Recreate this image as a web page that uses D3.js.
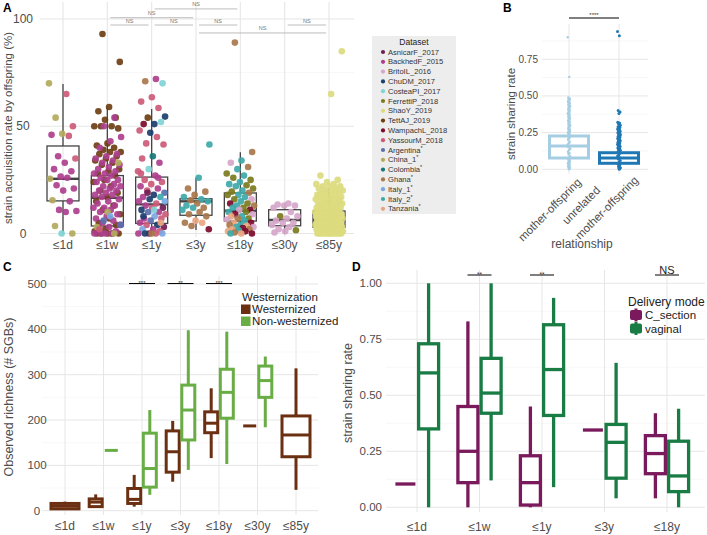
<!DOCTYPE html>
<html><head><meta charset="utf-8">
<script src="https://cdn.jsdelivr.net/npm/d3@7"></script>
<style>body{margin:0;background:#fff}svg{display:block;font-family:"Liberation Sans",Arial,Helvetica,sans-serif}</style>
</head><body><svg id="c" width="707" height="535"></svg>
<script>
// ---------------- DATA ----------------
const ageCats = ["≤1d","≤1w","≤1y","≤3y","≤18y","≤30y","≤85y"];
const datasets = ["AsnicarF_2017","BackhedF_2015","BritoIL_2016","ChuDM_2017","CosteaPI_2017","FerrettiP_2018","ShaoY_2019","TettAJ_2019","WampachL_2018","YassourM_2018","Argentina","China_1","Colombia","Ghana","Italy_1","Italy_2","Tanzania"];
const datasetStar = [0,0,0,0,0,0,0,0,0,0,1,1,1,1,1,1,1];
const datasetColors = ["#6e1e52","#ad3f8e","#d6a6c9","#1c3f6e","#80d4d6","#7b7a1d","#dcdb7e","#6e3e13","#7c0a2c","#cc5a78","#5b6fae","#b3aa5c","#17777a","#a9774b","#7aa7e2","#3ea8a8","#e9a57f"];

// Panel A box statistics (strain acquisition rate %)
const aLo  = [0,   0,   0,   1.6, 0,   0,   0];
const aQ1  = [15.2,3.5, 4.7, 8.5, 5.8, 3.6, 2.9];
const aMed = [25.5,16.7,13.6,15,  10.6,6.3, 6.3];
const aQ3  = [40.8,27,  26.3,16.2,18.9,11.1,10.5];
const aHi  = [69.7,59,  58,  26,  37.9,14,  21];

// Panel A points: [value, dataset index]
const pts1d = [[70,11],[65,9],[54,11],[50,9],[46.5,11],[46,1],[45.5,9],[36,1],[35,9],[33,1],[30,1],[29,1],[26.5,1],[25.5,11],[26,1],[22.5,1],[21,1],[20,1],[15.5,11],[15,1],[11,1],[10.5,1],[10,1],[3.5,11],[0,11],[0,4]];
const pts1w = [[93,7],[80,7],[59,7],[57,7],[54,7],[53,7],[50,7],[50,7],[50,7],[49,7],[42,7],[41,7],[40,7],[39,7],[38,7],[38,7],[37,7],[36,7],[35,7],[34,7],[33,7],[32,7],[30,7],[29,7],[28,7],[27,7],[25,7],[24,7],[22,7],[20,7],[19,7],[17,7],[15,7],[13,7],[11,7],[9,7],[7,7],[5,7],[4,7],[2,7],[1,7],[0,7],[0,7],[0,7],[0,7],[0,7],
 [54,1],[50,1],[45,1],[43,1],[40,1],[37,1],[36,1],[35,1],[34,1],[33,1],[32,1],[31,1],[30,1],[29,1],[28,1],[28,1],[27,1],[26,1],[25,1],[25,1],[24,1],[23,1],[22,1],[22,1],[21,1],[20,1],[20,1],[19,1],[18,1],[18,1],[17,1],[16,1],[15,1],[14,1],[13,1],[12,1],[12,1],[11,1],[10,1],[9,1],[8,1],[7,1],[6,1],[5,1],[4,1],[3,1],[2,1],[1,1],[0,1],[0,1],[0,1],[0,1],
 [33,11],[10,11],[3,11],[0,11],[6,10],[4,10],[8,14],[2,9]];
const pts1y = [[72,1],[71,13],[70,4],[63.5,9],[61.5,9],[58.5,9],[54,7],[54.5,3],[51,3],[51,8],[52,4],[47,3],[48,9],[45,9],[42,9],[41.5,9],[36,12],[35,9],[33,1],[30,4],[29,9],[27,1],[25,9],[24,9],[23,9],[22,1],[21,1],[20,9],[19,10],[18,3],[17,1],[17,15],[16,3],[15,1],[14,9],[13,1],[12,0],[12,9],[11,3],[10,1],[10,10],[9,9],[8,14],[7,1],[7,9],[6,10],[5,1],[4,3],[4,9],[3,0],[2,1],[2,14],[1,9],[0,0],[0,1],[0,9],[0,3],[0,14],[0,13],[28,9],[26,1],[19,0],[15,14],[11,4],[8,3],[5,16]];
const pts3y = [[41.5,15],[26,15],[21,13],[19.5,13],[18,13],[17,15],[16,15],[15.5,13],[15,15],[14,13],[13,15],[12,13],[12,15],[11,15],[10,13],[9,13],[8,13],[6,16],[5,13],[5,16],[3.5,13],[2,8]];
const pts18y = [[89,13],[38,13],[34,15],[33,2],[31,13],[30,15],[28,5],[27,15],[26,5],[25,5],[24,15],[23,15],[22.5,5],[22,15],[21,5],[20,15],[19.5,5],[19,13],[18,15],[18,5],[17,15],[16,5],[16,2],[15,15],[14,8],[14,5],[13,15],[13,13],[12,5],[12,15],[11,8],[11,2],[10,15],[10,5],[9,8],[9,2],[8,15],[8,16],[7,5],[7,13],[6.5,2],[6,15],[5,16],[5,8],[4,15],[4,13],[3.5,16],[3,15],[3,2],[2.5,8],[2,16],[2,13],[1.5,15],[1,16],[1,8],[0.5,13],[0,8],[0,16],[0,15]];
const pts30y = [[14,2],[13.5,2],[13,2],[13,2],[12,2],[10,2],[8,5],[8,2],[7,2],[6,2],[5,2],[5,2],[4,2],[3,2],[2,2],[1.5,5],[1,2],[0.5,2]];
const pts85yVals = [85,65,27,25,24,23,23,22,22,22,21,21,20,20,20,19,19,19,18,18,18,17,17,17,16,16,16,15,15,15,15,14,14,14,14,13,13,13,13,12,12,12,12,11,11,11,11,10,10,10,10,10,9,9,9,9,9,8,8,8,8,8,8,7,7,7,7,7,7,6,6,6,6,6,6,5,5,5,5,5,5,4,4,4,4,4,4,3,3,3,3,3,3,2,2,2,2,2,1,1,1,1,1,0,0,0,0,0,0,0,0,0,0,0,0];
// significance brackets A: [from cat, to cat, level (%)]
const bracketsA = [[2,4,104.7],[1,3,100.6],[1,2,97.2],[2,3,97.2],[3,4,97.2],[5,6,97.2],[3,6,93.5]];

// Panel B
const relCats = ["mother-offspring","unrelated mother-offspring"];
const bStats = [[0,0.077,0.159,0.227,0.49],[0,0.041,0.077,0.113,0.22]]; // lo,q1,med,q3,hi
const bMother = [0.90,0.63,0.49,0.48,0.47,0.46,0.45,0.44,0.43,0.42,0.41,0.40,0.39,0.38,0.37,0.36,0.35,0.34,0.33,0.32,0.31,0.30,0.29,0.28,0.27,0.26,0.25,0.24,0.23,0.22,0.21,0.20,0.19,0.18,0.17,0.16,0.15,0.14,0.13,0.12,0.11,0.10,0.09,0.08,0.07,0.06,0.05,0.04,0.03,0.02,0.01,0.00,0.02,0.05,0.11,0.14,0.18,0.21,0.26];
const bUnrel = [0.94,0.91,0.40,0.39,0.38,0.32,0.315,0.31,0.30,0.295,0.29,0.285,0.28,0.275,0.27,0.265,0.26,0.255,0.25,0.245,0.24,0.235,0.23,0.225,0.22,0.215,0.21,0.205,0.20,0.195,0.19,0.185,0.18,0.175,0.17,0.165,0.16,0.155,0.15,0.145,0.14,0.135,0.13,0.125,0.12,0.11,0.10,0.09,0.08,0.07,0.06,0.05,0.04,0.03,0.02,0.01,0.00];

// Panel C (observed richness)
const cWest = [[2,4,10,16,20],[6,9,19,26,36],[9,16,25,49,79],[64,85,130,176,198],[116,172,193,218,270],[187,187,187,187,187],[46,119,167,209,314]];
const cNonWest = [null,[133,133,133,133,133],[35,52,93,171,222],[90,156,222,277,398],[103,204,261,312,395],[184,250,287,319,340],null];
const cSig = [[2,"***"],[3,"**"],[4,"***"]];

// Panel D (strain sharing rate by delivery mode)
const dCats = ["≤1d","≤1w","≤1y","≤3y","≤18y"];
const dCsec = [[0.104,0.104,0.104,0.104,0.104],[0,0.11,0.25,0.45,0.83],[0,0.01,0.11,0.23,0.45],[0.345,0.345,0.345,0.345,0.345],[0.04,0.15,0.24,0.32,0.42]];
const dVag  = [[0,0.35,0.60,0.73,1.0],[0.12,0.42,0.51,0.665,1.0],[0.09,0.41,0.615,0.815,0.935],[0.04,0.13,0.29,0.37,0.645],[0,0.07,0.14,0.295,0.44]];
const dSig = [[1,"**"],[2,"**"],[4,"NS"]];

// ---------------- DRAW ----------------
const svg = d3.select("#c");
const GRID = "#e6e6e6", GRIDM = "#f2f2f2", TICK = "#4d4d4d";
const jit = i => ((i * 0.6180339887) % 1) - 0.5;

function box(g, y, cx, hw, s, color, sw, medW, fill) {
  g.append("line").attr("x1",cx).attr("x2",cx).attr("y1",y(s[0])).attr("y2",y(s[1])).attr("stroke",color).attr("stroke-width",sw);
  g.append("line").attr("x1",cx).attr("x2",cx).attr("y1",y(s[3])).attr("y2",y(s[4])).attr("stroke",color).attr("stroke-width",sw);
  g.append("rect").attr("x",cx-hw).attr("width",2*hw).attr("y",y(s[3])).attr("height",Math.max(0,y(s[1])-y(s[3])))
    .attr("fill",fill).attr("stroke",color).attr("stroke-width",sw);
  g.append("line").attr("x1",cx-hw).attr("x2",cx+hw).attr("y1",y(s[2])).attr("y2",y(s[2])).attr("stroke",color).attr("stroke-width",medW);
}
function panelLetter(t,x,y){ svg.append("text").attr("x",x).attr("y",y).text(t).attr("font-weight","bold").attr("font-size",12).attr("fill","#000"); }

// ===== Panel A =====
(function(){
  const g = svg.append("g");
  const x = d3.scalePoint().domain(ageCats).range([63,329]);
  const y = d3.scaleLinear().domain([0,100]).range([233.5,19]);
  [25,75].forEach(v=>g.append("line").attr("x1",40).attr("x2",354).attr("y1",y(v)).attr("y2",y(v)).attr("stroke",GRIDM).attr("stroke-width",0.6));
  [0,50,100].forEach(v=>g.append("line").attr("x1",40).attr("x2",354).attr("y1",y(v)).attr("y2",y(v)).attr("stroke",GRID).attr("stroke-width",1.1));
  ageCats.forEach(c=>g.append("line").attr("x1",x(c)).attr("x2",x(c)).attr("y1",2).attr("y2",237).attr("stroke",GRID).attr("stroke-width",1.1));
  [0,50,100].forEach(v=>g.append("text").attr("x",23).attr("y",y(v)).attr("dy","0.35em").attr("text-anchor","middle").attr("font-size",12).attr("fill",TICK).text(v));
  ageCats.forEach(c=>g.append("text").attr("x",x(c)).attr("y",249).attr("text-anchor","middle").attr("font-size",12).attr("fill",TICK).text(c));
  g.append("text").attr("transform","translate(12,128) rotate(-90)").attr("text-anchor","middle").attr("font-size",11.5).attr("fill",TICK).text("strain acquisition rate by offspring (%)");
  ageCats.forEach((c,i)=>box(g,y,x(c),16,[aLo[i],aQ1[i],aMed[i],aQ3[i],aHi[i]],"#444",1.3,2.4,"none"));
  const groups = [pts1d,pts1w,pts1y,pts3y,pts18y,pts30y,pts85yVals.map(v=>[v,6])];
  groups.forEach((arr,gi)=>{
    const cx = x(ageCats[gi]);
    g.append("g").selectAll("circle").data(arr).join("circle")
      .attr("cx",(d,i)=>cx + jit(i+gi*7)*28)
      .attr("cy",d=>y(d[0])).attr("r",3.3)
      .attr("fill",d=>datasetColors[d[1]]).attr("opacity",0.92);
  });
  bracketsA.forEach(b=>{
    const x1 = x(ageCats[b[0]])+3, x2 = x(ageCats[b[1]])-3, yy = y(b[2]);
    g.append("line").attr("x1",x1).attr("x2",x2).attr("y1",yy).attr("y2",yy).attr("stroke","#b5b5b5").attr("stroke-width",0.9);
    g.append("text").attr("x",(x1+x2)/2).attr("y",yy-2.5).attr("text-anchor","middle").attr("font-size",5.5).attr("fill","#777").text("NS");
  });
  const lg = svg.append("g");
  lg.append("rect").attr("x",372).attr("y",36).attr("width",84).attr("height",178).attr("fill","#ededed");
  lg.append("text").attr("x",414).attr("y",44.5).attr("text-anchor","middle").attr("font-size",8.5).attr("fill","#222").text("Dataset");
  datasets.forEach((d,i)=>{
    const yy = 52 + i*9.8;
    lg.append("circle").attr("cx",383).attr("cy",yy).attr("r",2.1).attr("fill",datasetColors[i]);
    const t = lg.append("text").attr("x",388).attr("y",yy).attr("dy","0.35em").attr("font-size",7.6).attr("fill","#333").text(d);
    if (datasetStar[i]) t.append("tspan").attr("dy",-3).attr("font-size",5.5).text("*");
  });
  panelLetter("A",3,12);
})();

// ===== Panel B =====
(function(){
  const g = svg.append("g");
  const x = d3.scalePoint().domain(relCats).range([569,619]);
  const y = d3.scaleLinear().domain([0,1]).range([169.3,22.6]);
  [0.125,0.375,0.625,0.875].forEach(v=>g.append("line").attr("x1",542).attr("x2",648).attr("y1",y(v)).attr("y2",y(v)).attr("stroke",GRIDM).attr("stroke-width",0.6));
  [0,0.25,0.5,0.75].forEach(v=>g.append("line").attr("x1",542).attr("x2",648).attr("y1",y(v)).attr("y2",y(v)).attr("stroke",GRID).attr("stroke-width",1));
  relCats.forEach(c=>g.append("line").attr("x1",x(c)).attr("x2",x(c)).attr("y1",24).attr("y2",174).attr("stroke",GRID).attr("stroke-width",1));
  [0,0.25,0.5,0.75].forEach(v=>g.append("text").attr("x",538).attr("y",y(v)).attr("dy","0.35em").attr("text-anchor","end").attr("font-size",10).attr("fill",TICK).text(d3.format(".2f")(v)));
  g.append("text").attr("transform","translate(515,114) rotate(-90)").attr("text-anchor","middle").attr("font-size",11.5).attr("fill",TICK).text("strain sharing rate");
  const cols = ["#a6cee3","#1f78b4"];
  relCats.forEach((c,i)=>box(g,y,x(c),19.5,bStats[i],cols[i],3,3,"#fff"));
  [bMother,bUnrel].forEach((arr,k)=>{
    g.append("g").selectAll("circle").data(arr).join("circle")
      .attr("cx",(d,i)=>x(relCats[k]) + jit(i)*(k?3:2.5)).attr("cy",d=>y(d)).attr("r",k?1.5:1.2).attr("fill",cols[k]);
  });
  g.append("line").attr("x1",x(relCats[0])).attr("x2",x(relCats[1])).attr("y1",18).attr("y2",18).attr("stroke","#000").attr("stroke-width",1);
  g.append("text").attr("x",(x(relCats[0])+x(relCats[1]))/2).attr("y",17).attr("text-anchor","middle").attr("font-size",6).attr("fill","#333").text("****");
  g.append("text").attr("transform","translate(582,183) rotate(-45)").attr("text-anchor","end").attr("font-size",11.5).attr("fill",TICK).text("mother-offspring");
  g.append("text").attr("transform","translate(567,225) rotate(-45)").attr("text-anchor","start").attr("font-size",11.5).attr("fill",TICK).text("unrelated");
  g.append("text").attr("transform","translate(580,240) rotate(-45)").attr("text-anchor","start").attr("font-size",11.5).attr("fill",TICK).text("mother-offspring");
  g.append("text").attr("x",582).attr("y",248).attr("text-anchor","middle").attr("font-size",12).attr("fill",TICK).text("relationship");
  panelLetter("B",503,12);
})();

// ===== Panel C =====
(function(){
  const g = svg.append("g");
  const x = d3.scalePoint().domain(ageCats).range([65,296]);
  const y = d3.scaleLinear().domain([0,500]).range([510.7,284]);
  [50,150,250,350,450].forEach(v=>g.append("line").attr("x1",42).attr("x2",318).attr("y1",y(v)).attr("y2",y(v)).attr("stroke",GRIDM).attr("stroke-width",0.6));
  [0,100,200,300,400,500].forEach(v=>g.append("line").attr("x1",42).attr("x2",318).attr("y1",y(v)).attr("y2",y(v)).attr("stroke",GRID).attr("stroke-width",1));
  ageCats.forEach(c=>g.append("line").attr("x1",x(c)).attr("x2",x(c)).attr("y1",276).attr("y2",515).attr("stroke",GRID).attr("stroke-width",1));
  [0,100,200,300,400,500].forEach(v=>g.append("text").attr("x",37).attr("y",y(v)).attr("dy","0.35em").attr("text-anchor","middle").attr("font-size",11.5).attr("fill",TICK).text(v));
  ageCats.forEach(c=>g.append("text").attr("x",x(c)).attr("y",530).attr("text-anchor","middle").attr("font-size",12).attr("fill",TICK).text(c));
  g.append("text").attr("transform","translate(13,397) rotate(-90)").attr("text-anchor","middle").attr("font-size",12.5).attr("fill",TICK).text("Observed richness (# SGBs)");
  const BR="#6b2f12", GR="#69ad45";
  ageCats.forEach((c,i)=>{
    const both = cNonWest[i] !== null;
    const off = both ? 7.8 : 0, hw = both ? 6.5 : 14;
    box(g,y,x(c)-off,hw,cWest[i],BR,3,3,"#fff");
    if (both) box(g,y,x(c)+off,hw,cNonWest[i],GR,3,3,"#fff");
  });
  cSig.forEach(s=>{
    const cx = x(ageCats[s[0]]);
    g.append("line").attr("x1",cx-13).attr("x2",cx+13).attr("y1",y(501)).attr("y2",y(501)).attr("stroke","#000").attr("stroke-width",1);
    g.append("text").attr("x",cx).attr("y",y(501)+1.5).attr("text-anchor","middle").attr("font-size",6).attr("fill","#333").text(s[1]);
  });
  g.append("text").attr("x",242).attr("y",300.5).attr("font-size",11.5).attr("fill","#222").text("Westernization");
  [["Westernized",BR],["Non-westernized",GR]].forEach((d,i)=>{
    g.append("rect").attr("x",241).attr("y",304.5+i*12).attr("width",9.5).attr("height",9.5).attr("fill",d[1]);
    g.append("text").attr("x",252).attr("y",309.3+i*12).attr("dy","0.35em").attr("font-size",11.5).attr("fill","#222").text(d[0]);
  });
  panelLetter("C",3,271);
})();

// ===== Panel D =====
(function(){
  const g = svg.append("g");
  const x = d3.scalePoint().domain(dCats).range([417,667]);
  const y = d3.scaleLinear().domain([0,1]).range([507.3,283.3]);
  [0.125,0.375,0.625,0.875].forEach(v=>g.append("line").attr("x1",386).attr("x2",705).attr("y1",y(v)).attr("y2",y(v)).attr("stroke",GRIDM).attr("stroke-width",0.6));
  [0,0.25,0.5,0.75,1].forEach(v=>g.append("line").attr("x1",386).attr("x2",705).attr("y1",y(v)).attr("y2",y(v)).attr("stroke",GRID).attr("stroke-width",1));
  dCats.forEach(c=>g.append("line").attr("x1",x(c)).attr("x2",x(c)).attr("y1",270).attr("y2",512).attr("stroke",GRID).attr("stroke-width",1));
  [0,0.25,0.5,0.75,1].forEach(v=>g.append("text").attr("x",382).attr("y",y(v)).attr("dy","0.35em").attr("text-anchor","end").attr("font-size",11.5).attr("fill",TICK).text(d3.format(".2f")(v)));
  dCats.forEach(c=>g.append("text").attr("x",x(c)).attr("y",531).attr("text-anchor","middle").attr("font-size",12).attr("fill",TICK).text(c));
  g.append("text").attr("transform","translate(352,393) rotate(-90)").attr("text-anchor","middle").attr("font-size",12.5).attr("fill",TICK).text("strain sharing rate");
  const PU="#7a1a5c", GN="#1a7c45";
  dCats.forEach((c,i)=>{
    box(g,y,x(c)-11.6,10,dCsec[i],PU,3.3,3.3,"#fff");
    box(g,y,x(c)+11.6,10,dVag[i],GN,3.3,3.3,"#fff");
  });
  dSig.forEach(s=>{
    const cx = x(dCats[s[0]]);
    const x1 = cx-12, x2 = cx+12;
    g.append("line").attr("x1",x1).attr("x2",x2).attr("y1",y(1.037)).attr("y2",y(1.037)).attr("stroke","#000").attr("stroke-width",1);
    if (s[1]==="NS") g.append("text").attr("x",cx).attr("y",y(1.037)-1).attr("text-anchor","middle").attr("font-size",11).attr("fill","#222").text("NS");
    else g.append("text").attr("x",cx).attr("y",y(1.037)+1.5).attr("text-anchor","middle").attr("font-size",6.5).attr("fill","#333").text(s[1]);
  });
  g.append("text").attr("x",628).attr("y",306).attr("font-size",12).attr("fill","#222").text("Delivery mode");
  [["C_section",PU],["vaginal",GN]].forEach((d,i)=>{
    const yy = 309+i*13.5;
    g.append("rect").attr("x",630).attr("y",yy+1).attr("width",12).attr("height",10).attr("rx",2).attr("fill",d[1]);
    g.append("rect").attr("x",634.5).attr("y",yy-0.5).attr("width",3).attr("height",13).attr("fill",d[1]);
    g.append("text").attr("x",645).attr("y",yy+6).attr("dy","0.35em").attr("font-size",11.5).attr("fill","#222").text(d[0]);
  });
  panelLetter("D",352,271);
})();
</script></body></html>
